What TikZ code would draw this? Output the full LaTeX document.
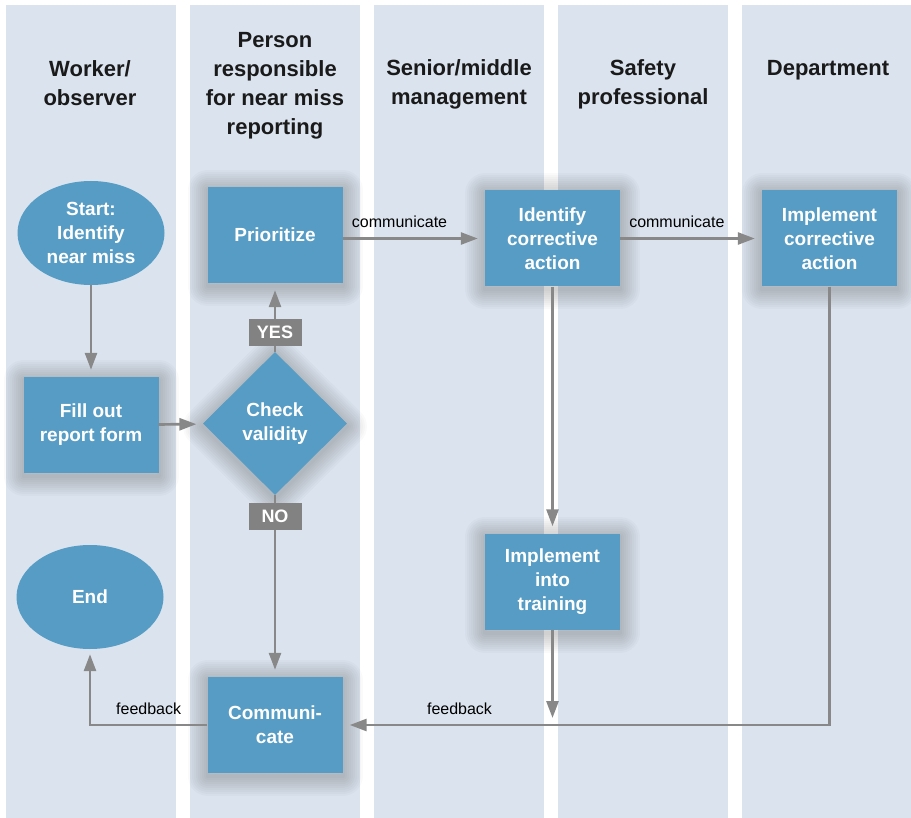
\documentclass[tikz,border=0pt]{standalone}
\usepackage{fontspec}
\setmainfont{Liberation Sans}
\usetikzlibrary{shapes.geometric, arrows.meta, positioning, calc}
\definecolor{laneblue}{RGB}{219,228,238}
\definecolor{boxblue}{RGB}{86,156,196}
\definecolor{arrowgray}{RGB}{136,136,136}
\definecolor{taggray}{RGB}{130,130,130}
\definecolor{hdrdark}{RGB}{26,26,26}
\tikzset{
  lane/.style={fill=laneblue, draw=none},
  header/.style={align=center, text=hdrdark,
    font=\fontsize{22}{29}\selectfont\bfseries},
  glow/.style={preaction={draw=black, draw opacity=0.02, line width=#1,
    line join=round, transform canvas={yshift=-3pt}}},
  softshadow/.style={glow=40pt, glow=36pt, glow=32pt, glow=28pt, glow=24pt,
    glow=20pt, glow=16pt, glow=12pt, glow=8pt, glow=4pt},
  block/.style={rectangle, fill=boxblue, minimum width=135pt,
    minimum height=96pt, inner sep=0pt, align=center, text=white,
    font=\fontsize{19}{24}\selectfont\bfseries, softshadow},
  terminal/.style={ellipse, fill=boxblue, minimum width=147pt,
    minimum height=104pt, inner sep=0pt, align=center, text=white,
    font=\fontsize{19}{24}\selectfont\bfseries},
  decision/.style={diamond, fill=boxblue, minimum width=144pt,
    minimum height=143pt, inner sep=0pt, align=center, text=white,
    font=\fontsize{19}{24}\selectfont\bfseries, softshadow},
  tag/.style={rectangle, fill=taggray, text=white, minimum width=53pt,
    minimum height=27pt, inner sep=0pt, font=\fontsize{18}{20}\selectfont\bfseries},
  flowlabel/.style={font=\fontsize{16}{19}\selectfont, text=black, inner sep=0pt},
  arrow/.style={-{Triangle[length=17pt, width=12pt]}, line width=2.7pt,
    color=arrowgray, shorten >=7pt},
  line/.style={line width=2.7pt, color=arrowgray}
}

\begin{document}
\begin{tikzpicture}[x=1pt, y=-1pt]
  \useasboundingbox (0,0) rectangle (911,818);
  % ── Swim lanes ─────────────────────────────────────────────────────────────
  \foreach \i in {0,...,4}
    \fill[lane] (6+184*\i, 5) rectangle (176+184*\i, 818);

  % ── Lane headers ───────────────────────────────────────────────────────────
  \node[header] (hworker) at (90,83) {Worker/\\observer};
  \node[header] (hperson) at (275,86) {Person\\responsible\\for near miss\\reporting};
  \node[header] (hsenior) at (459,84) {Senior/middle\\management};
  \node[header] (hsafety) at (643,84) {Safety\\professional};
  \node[header] (hdept) at (828,70) {Department};

  % ── Process nodes ──────────────────────────────────────────────────────────
  \node[terminal] (start) at (91,233) {Start:\\Identify\\near miss};
  \node[block] (fill) at (91,425) {Fill out\\report form};
  \node[terminal] (end) at (90,597) {End};
  \node[block] (prio) at (275,235) {Prioritize};
  \node[decision] (check) at (275,423.5) {Check\\validity};
  \node[block] (comm) at (275,725) {Communi-\\cate};
  \node[block] (ident) at (552.5,238.5) {Identify\\corrective\\action};
  \node[block] (train) at (552.5,581.5) {Implement\\into\\training};
  \node[block] (impl) at (829.5,238.5) {Implement\\corrective\\action};
  \coordinate (trainend) at (552.5,725);

  % ── Connectors ─────────────────────────────────────────────────────────────
  \draw[arrow] (start) -- (fill);
  \draw[arrow] (fill) -- (check);
  \draw[arrow] (check.north) -- (prio.south)
    node[tag, pos=0.28] (yes) {YES};
  \draw[arrow] (check.south) -- (comm.north)
    node[tag, pos=0.118] (no) {NO};
  \draw[arrow] (prio.east |- ident.west) -- (ident.west)
    node[flowlabel, pos=0.4, above=9pt] {communicate};
  \draw[arrow] (ident) -- (impl)
    node[flowlabel, pos=0.4, above=9pt] {communicate};
  \draw[arrow] (ident) -- (train);
  \draw[arrow] (train) -- (trainend);
  \draw[arrow] (impl.south) |- (comm.east)
    node[flowlabel, pos=0.88, above=9pt] {feedback};
  \draw[arrow, shorten >=5pt] (comm.west) -| (end.south)
    node[flowlabel, pos=0.25, above=9pt] {feedback};
\end{tikzpicture}
\end{document}
